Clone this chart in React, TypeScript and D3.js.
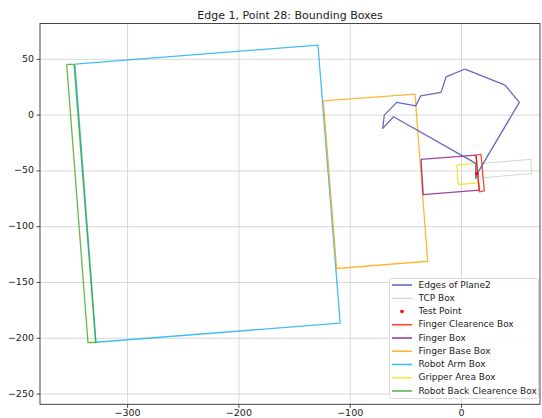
import React from "react";
import * as d3 from "d3";

type Pt = [number, number];

// Boundary of the plane's edge loop
const planeEdges: Pt[] = [
  [3.1, 41.3], [39.1, 26.9], [51.9, 11.4], [14.2, -52.3], [12.8, -56.8],
  [12.8, -43.3], [-61.1, -1.5], [-70.8, -11.9], [-69.4, 0], [-58.2, 11.4],
  [-41.1, 8.3], [-36.7, 17.3], [-18.4, 20.4], [-13.9, 34.3], [3.1, 41.3],
];

// Box corners (closed outlines)
const tcpBox: Pt[] = [[18.1, -43.3], [62.2, -39.7], [63.1, -52.3], [19.0, -56.2]];
const testPoint: Pt = [13.7, -52.3];
const fingerClearanceBox: Pt[] = [[13.0, -35.9], [17.5, -35.2], [20.5, -67.9], [16.0, -68.8]];
const fingerBox: Pt[] = [[-36.4, -39.7], [13.0, -35.9], [16.0, -67.3], [-34.4, -71.3]];
const fingerBaseBox: Pt[] = [[-124.2, 12.8], [-41.8, 18.8], [-30.4, -131.0], [-112.2, -137.5]];
const robotArmBox: Pt[] = [[-347.3, 45.7], [-129.0, 62.8], [-109.0, -186.5], [-328.4, -203.6]];
const gripperAreaBox: Pt[] = [[-4.3, -44.8], [13.7, -43.3], [14.6, -60.7], [-2.9, -62.2]];
const robotBackClearanceBox: Pt[] = [[-354.7, 45.5], [-348.1, 45.5], [-328.7, -203.8], [-335.6, -203.8]];

const xTicks = [-300, -200, -100, 0];
const yTicks = [50, 0, -50, -100, -150, -200, -250];

const W = 542;
const H = 418;
const M = { left: 40, right: 540, top: 23.5, bottom: 404.3 };

const x = d3.scaleLinear().domain([-378.7, 70.5]).range([M.left, M.right]);
const y = d3.scaleLinear().domain([-259.2, 82.1]).range([M.bottom, M.top]);

const fmt = (v: number) => (v < 0 ? "\u2212" + Math.abs(v) : String(v));

const line = d3.line<Pt>().x((d) => x(d[0])).y((d) => y(d[1]));
const closed = (pts: Pt[]) => line([...pts, pts[0]]) as string;

interface Series {
  label: string;
  color: string;
  width: number;
  opacity: number;
  kind: "line" | "dot";
}

const legend: Series[] = [
  { label: "Edges of Plane2", color: "#4f5bb8", width: 1.3, opacity: 0.9, kind: "line" },
  { label: "TCP Box", color: "#90c888", width: 0.9, opacity: 0.6, kind: "line" },
  { label: "Test Point", color: "#ff0000", width: 1, opacity: 1, kind: "dot" },
  { label: "Finger Clearence Box", color: "#ff2000", width: 1.3, opacity: 0.8, kind: "line" },
  { label: "Finger Box", color: "#800080", width: 1.3, opacity: 0.75, kind: "line" },
  { label: "Finger Base Box", color: "#ffa500", width: 1.3, opacity: 0.8, kind: "line" },
  { label: "Robot Arm Box", color: "#00a8f0", width: 1.3, opacity: 0.75, kind: "line" },
  { label: "Gripper Area Box", color: "#f0e000", width: 1.3, opacity: 0.75, kind: "line" },
  { label: "Robot Back Clearence Box", color: "#30a010", width: 1.3, opacity: 0.75, kind: "line" },
];

const shapes: { pts: Pt[]; s: Series }[] = [
  { pts: robotArmBox, s: legend[6] },
  { pts: robotBackClearanceBox, s: legend[8] },
  { pts: fingerBaseBox, s: legend[5] },
  { pts: tcpBox, s: legend[1] },
  { pts: fingerBox, s: legend[4] },
  { pts: gripperAreaBox, s: legend[7] },
  { pts: fingerClearanceBox, s: legend[3] },
];

export default function App() {
  const font = "'DejaVu Sans', sans-serif";
  const lx = 389.5;
  const ly = 278.5;
  const lw = 149;
  const lh = 120;
  return (
    <svg width={W} height={H} style={{ position: "absolute", left: 0, top: 0 }} fontFamily={font}>
      <rect width={W} height={H} fill="#fff" />
      <text x={(M.left + M.right) / 2} y={16} textAnchor="middle" dominantBaseline="middle" fontSize={11} fill="#222">
        Edge 1, Point 28: Bounding Boxes
      </text>
      {/* grid */}
      {xTicks.map((t) => (
        <line key={"gx" + t} x1={x(t)} x2={x(t)} y1={M.top} y2={M.bottom} stroke="#d8d8d8" strokeWidth={1} />
      ))}
      {yTicks.map((t) => (
        <line key={"gy" + t} x1={M.left} x2={M.right} y1={y(t)} y2={y(t)} stroke="#d8d8d8" strokeWidth={1} />
      ))}
      {/* boxes */}
      {shapes.map((sh, i) => (
        <path key={i} d={closed(sh.pts)} fill="none" stroke={sh.s.color} strokeWidth={sh.s.width} strokeOpacity={sh.s.opacity} strokeLinejoin="round" />
      ))}
      <path d={line(planeEdges) as string} fill="none" stroke={legend[0].color} strokeWidth={1.3} strokeOpacity={0.9} strokeLinejoin="round" />
      <circle cx={x(testPoint[0])} cy={y(testPoint[1])} r={1.8} fill="#ff0000" />
      {/* spines */}
      <rect x={M.left} y={M.top} width={M.right - M.left} height={M.bottom - M.top} fill="none" stroke="#333" strokeWidth={0.9} />
      {/* ticks */}
      {xTicks.map((t) => (
        <g key={"tx" + t}>
          <line x1={x(t)} x2={x(t)} y1={M.bottom} y2={M.bottom + 3.5} stroke="#333" strokeWidth={0.9} />
          <text x={x(t)} y={M.bottom + 9} textAnchor="middle" dominantBaseline="middle" fontSize={9.5} fill="#222">
            {fmt(t)}
          </text>
        </g>
      ))}
      {yTicks.map((t) => (
        <g key={"ty" + t}>
          <line x1={M.left - 3.5} x2={M.left} y1={y(t)} y2={y(t)} stroke="#333" strokeWidth={0.9} />
          <text x={M.left - 6} y={y(t)} textAnchor="end" dominantBaseline="middle" fontSize={9.5} fill="#222">
            {fmt(t)}
          </text>
        </g>
      ))}
      {/* legend */}
      <rect x={lx} y={ly} width={lw} height={lh} rx={2} fill="#fff" fillOpacity={0.85} stroke="#d0d0d0" strokeWidth={0.8} />
      {legend.map((s, i) => {
        const cy = 285 + i * 13.25;
        return (
          <g key={s.label}>
            {s.kind === "line" ? (
              <line x1={392} x2={412} y1={cy} y2={cy} stroke={s.color} strokeWidth={s.width + 0.3} strokeOpacity={s.opacity} />
            ) : (
              <circle cx={402} cy={cy} r={1.8} fill={s.color} />
            )}
            <text x={418.5} y={cy} dominantBaseline="middle" fontSize={9} fill="#222">
              {s.label}
            </text>
          </g>
        );
      })}
    </svg>
  );
}
